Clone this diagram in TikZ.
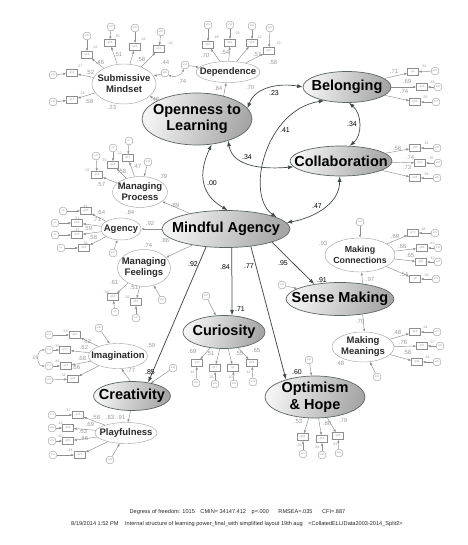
\documentclass[tikz,border=0pt]{standalone}
\usepackage{fontspec}
\setmainfont{Liberation Sans}
\usetikzlibrary{positioning, shapes.geometric, arrows.meta}

\definecolor{LineGray} {HTML}{8E8E8E}
\definecolor{SoftGray} {HTML}{9A9A9A}
\definecolor{PathDark} {HTML}{3E4A4A}
\definecolor{FillLight}{HTML}{F4F4F4}
\definecolor{FillDark} {HTML}{A6A6A6}
\definecolor{NameInk}  {HTML}{2A2A2A}

\tikzset{
  factor/.style={ellipse, draw=PathDark!85, line width=0.7pt, inner sep=0pt,
    left color=FillLight, right color=FillDark, shading angle=75},
  ftext/.style={align=center, inner sep=0pt, text=black,
    font=\bfseries\fontsize{14.5}{16.5}\selectfont},
  subfactor/.style={ellipse, draw=LineGray!80, line width=0.45pt, fill=white, inner sep=0pt},
  stext/.style={align=center, inner sep=0pt, text=NameInk,
    font=\bfseries\fontsize{9.5}{11}\selectfont},
  obs/.style={rectangle, draw=LineGray, line width=0.35pt, fill=white,
    minimum width=11pt, minimum height=7pt, inner sep=0pt,
    font=\fontsize{2.8}{3}\selectfont, text=SoftGray},
  err/.style={circle, draw=LineGray, line width=0.35pt, fill=white,
    minimum size=8pt, inner sep=0pt, font=\fontsize{2.6}{3}\selectfont, text=SoftGray},
  mpath/.style={-{Latex[length=3pt, width=2.4pt]}, LineGray, line width=0.45pt},
  spath/.style={-{Latex[length=5.5pt, width=4pt]}, PathDark, line width=0.75pt},
  cov/.style={{Latex[length=5.5pt, width=4pt]}-{Latex[length=5.5pt, width=4pt]}, PathDark, line width=0.7pt},
  ecov/.style={{Latex[length=2.5pt, width=2pt]}-{Latex[length=2.5pt, width=2pt]}, LineGray, line width=0.4pt},
  ld/.style={inner sep=0pt, text=SoftGray, font=\fontsize{6}{7}\selectfont},
  rsq/.style={inner sep=0pt, text=SoftGray, font=\fontsize{3.6}{4}\selectfont},
  coef/.style={inner sep=0pt, text=black, font=\fontsize{7}{8}\selectfont},
  foot/.style={inner sep=0pt, text=black!85, font=\fontsize{5.6}{6.5}\selectfont},
}

% indicator boxes with their error circles
\newcommand{\obsgroup}[2]{%
  \foreach \nm/\bx/\by/\ex/\ey/\qt/\et/\lv/\lx/\ly/\rv/\rx/\ry in {#2}{%
    \node[obs] (\nm) at (\bx,\by) {\qt};
    \node[err] (e\nm) at (\ex,\ey) {\et};
    \draw[mpath] (e\nm) -- (\nm);
    \draw[mpath] (#1) -- (\nm);
    \node[ld] at (\lx,\ly) {\lv};
    \node[rsq] at (\rx,\ry) {\rv};
  }}

\begin{document}
\begin{tikzpicture}[x=1pt, y=1pt]
\useasboundingbox (0,0) rectangle (467,-545);

% main factors
\node[factor, minimum width=110pt, minimum height=52pt, label={[ftext]center:Openness to\\Learning}] (open) at (197,-119) {};
\node[factor, minimum width=88pt, minimum height=31pt, label={[ftext]center:Belonging}] (bel) at (347,-87) {};
\node[factor, minimum width=102pt, minimum height=30pt, label={[ftext]center:Collaboration}] (col) at (341,-161) {};
\node[factor, minimum width=128pt, minimum height=37pt, label={[ftext]center:Mindful Agency}] (ma) at (226,-229) {};
\node[factor, minimum width=108pt, minimum height=33pt, label={[ftext]center:Sense Making}] (sense) at (340,-299) {};
\node[factor, minimum width=82pt, minimum height=33pt, label={[ftext]center:Curiosity}] (cur) at (224,-332) {};
\node[factor, minimum width=77pt, minimum height=29pt, label={[ftext]center:Creativity}] (cre) at (132,-396) {};
\node[factor, minimum width=100pt, minimum height=42pt, label={[ftext]center:Optimism\\\& Hope}] (opt) at (315,-397) {};

% first order factors
\node[subfactor, minimum width=64pt, minimum height=40pt, label={[stext]center:Submissive\\Mindset}] (subm) at (124,-84) {};
\node[subfactor, minimum width=64pt, minimum height=21pt, label={[stext]center:Dependence}] (dep) at (228,-72) {};
\node[subfactor, minimum width=55pt, minimum height=31pt, label={[stext]center:Managing\\Process}] (mproc) at (140,-192) {};
\node[subfactor, minimum width=40pt, minimum height=22pt, label={[stext]center:Agency}] (agy) at (121,-229) {};
\node[subfactor, minimum width=53pt, minimum height=37pt, label={[stext]center:Managing\\Feelings}] (mfeel) at (144,-268) {};
\node[subfactor, minimum width=70pt, minimum height=34pt, label={[stext, font=\bfseries\fontsize{8.8}{10.5}\selectfont]center:Making\\Connections}] (mconn) at (360,-255) {};
\node[subfactor, minimum width=62pt, minimum height=30pt, label={[stext]center:Making\\Meanings}] (mmean) at (363,-347) {};
\node[subfactor, minimum width=59pt, minimum height=25pt, label={[stext]center:Imagination}] (ima) at (118,-356) {};
\node[subfactor, minimum width=62pt, minimum height=21pt, label={[stext]center:Playfulness}] (pla) at (126,-433) {};

% indicators
\obsgroup{subm}{sm1/87/-55/87/-36/q29/e48/.46/100/-62/.22/95/-47,
  sm2/110/-43/111/-27/q28/e47/.51/118/-54/.26/117/-36,
  sm3/135/-47/135/-28/q30/e49/.58/141/-59/.34/143/-39,
  sm4/159/-49/161/-32/q50/e50/.44/165/-62/.20/170/-43,
  sm5/72/-73/53/-75/q31/e45/.52/90/-72/.27/80/-66,
  sm6/72/-100/53/-102/q16/e44/.58/89/-101/.34/82/-93}
\obsgroup{dep}{dp1/208/-45/208/-25/q60/e51/.70/205/-55/.49/216/-37,
  dp2/230/-43/230/-25/q64/e52/.54/225/-52/.29/237/-33,
  dp3/252/-43/252/-26/q65/e53/.57/257/-54/.32/259/-37,
  dp4/269/-51/270/-28/q67/e54/.58/273/-62/.33/278/-43}
\obsgroup{bel}{be1/413/-72/435/-71/q3/e55/.71/394/-71/.51/424/-66,
  be2/422/-87/438/-87/q49/e56/.69/407/-81/.48/432/-82,
  be3/415/-102/436/-102/q60/e57/.74/404/-91/.55/425/-97}
\obsgroup{col}{co1/415/-148/437/-148/q30/e58/.56/397/-148/.31/426/-143,
  co2/420/-163/438/-163/q44/e59/.74/410/-157/.55/431/-158,
  co3/415/-178/437/-178/q48/e60/.73/407/-167/.54/426/-174}
\obsgroup{mproc}{pr1/97/-175/96/-156/q59/e6/.57/101/-184/.32/87/-170,
  pr2/113/-165/113/-148/q18/e8/.58/122/-171/.33/104/-160,
  pr3/128/-158/129/-141/q14/e7/.47/137/-166/.22/119/-153}
\obsgroup{agy}{ag1/86/-211/63/-211/q53/e4/.64/101/-212/.41/85/-206,
  ag2/77/-223/55/-223/q58/e3/.71/97/-219/.51/77/-218,
  ag3/77/-235/55/-235/q76/e2/.59/88/-228/.35/77/-230,
  ag4/84/-248/61/-248/q80/e1/.58/93/-237/.34/85/-243}
\obsgroup{mfeel}{fe1/113/-297/115/-312/q85/e5/.61/114/-282/.38/106/-292,
  fe2/136/-302/136/-318/q51/e9/.51/134/-287/.26/127/-297}
\obsgroup{mconn}{cn1/413/-233/435/-233/q73/e18/.69/395/-236/.48/423/-229,
  cn2/422/-248/438/-248/q83/e19/.66/402/-246/.43/432/-243,
  cn3/421/-262/438/-262/q84/e20/.65/410/-255/.42/432/-258,
  cn4/415/-279/436/-279/q6/e21/.54/404/-274/.29/426/-275}
\obsgroup{mmean}{mn1/415/-332/437/-332/q26/e22/.48/397/-332/.24/425/-327,
  mn2/422/-346/440/-346/q31/e23/.76/403/-342/.57/432/-342,
  mn3/417/-362/437/-362/q33/e24/.58/407/-352/.34/427/-357}
\obsgroup{cur}{cu1/197/-363/196/-383/q40/e30/.69/192/-351/.48/192/-372,
  cu2/215/-368/215/-384/q17/e31/.51/210/-353/.26/211/-377,
  cu3/233/-368/234/-384/q1/e32/.55/239/-353/.30/230/-377,
  cu4/252/-363/253/-382/q29/e33/.65/256/-350/.42/248/-372}
\obsgroup{opt}{op1/303/-437/303/-454/q90/e27/.53/298/-421/.28/299/-445,
  op2/322/-439/322/-455/q58/e28/.80/327/-423/.64/317/-447,
  op3/338/-436/339/-453/q36/e29/.79/343/-420/.62/335/-444}
\obsgroup{ima}{im1/75/-335/49/-335/q27/e13/.62/87/-341/.38/65/-331,
  im2/65/-350/49/-350/q37/e12/.62/84/-347/.39/57/-346,
  im3/66/-366/49/-366/q79/e11/.68/82/-358/.46/57/-361,
  im4/73/-379/49/-380/q25/e10/.66/76/-367/.34/63/-375}
\obsgroup{pla}{pl1/78/-415/52/-415/q24/e17/.58/96/-417/.33/68/-410,
  pl2/68/-428/52/-428/q45/e16/.69/90/-424/.42/60/-423,
  pl3/68/-441/52/-441/q55/e15/.63/83/-431/.40/60/-436,
  pl4/80/-455/53/-455/q23/e14/.66/84/-438/.44/70/-450}
\draw[ecov] (eim2.west) to[out=180, in=180, looseness=1.4] (eim3.west);
\node[rsq, font=\fontsize{5}{6}\selectfont] at (35,-358) {.05};

% residuals of the factors
\foreach \nm/\px/\py/\tg/\et in {dsubm/165/-73/subm/e46, ddep/185/-65/dep/e34,
    dproc/148/-162/mproc/e43, dagy/113/-253/agy/e42, dfeel/162/-300/mfeel/e41,
    dima/99/-328/ima/e38, dpla/110/-460/pla/e39, dcre/173/-368/cre/e36,
    dcur/206/-296/cur/e37, dopt/309/-360/opt/e35, dsense/282/-285/sense/e40,
    dconn/360/-222/mconn/e44, dmean/377/-377/mmean/e45}{
  \node[err] (\nm) at (\px,\py) {\et};
  \draw[mpath] (\nm) -- (\tg);
}
\draw[ecov] (dsubm) to[bend right=50] (ddep);
\node[ld] at (182,-81) {.74};

% second order paths
\draw[mpath] (open) -- (subm);
\draw[mpath] (open.41) -- (dep.-100);
\draw[mpath] (ma) -- (mproc);
\draw[mpath] (ma) -- (agy);
\draw[mpath] (ma) -- (mfeel);
\draw[mpath] (cre.97) -- (ima.-75);
\draw[mpath] (cre.-95) -- (pla.80);
\draw[mpath] (sense.34) -- (mconn.-85);
\draw[mpath] (sense.-34) -- (mmean.85);
\draw[spath] (ma.-138) -- (cre.40);
\draw[spath] (ma.-73) -- (cur.64);
\draw[spath] (ma.-35) -- (opt.149);
\draw[spath] (ma.-16) -- (sense.150);

% covariances
\draw[cov] (open.12) to[out=70, in=170] (bel.west);
\draw[cov] (open.-35) to[out=-80, in=185] (col.187);
\draw[cov] (open.-60) to[out=-115, in=150, looseness=1.2] (ma.85);
\draw[cov] (bel.211) .. controls (265,-110) and (245,-195) .. (ma.13);
\draw[cov] (col.-95) to[out=-90, in=10] (ma.6);
\draw[cov] (bel.-83) to[out=-40, in=40] (col.60);

% estimates
\foreach \vx/\vy/\vt in {155/-99/.48, 112/-107/.23, 218/-88/.84, 250/-87/.70,
    163/-176/.79, 175/-205/.89, 130/-212/.84, 150/-223/.92, 165/-240/.86,
    148/-245/.74, 323/-243/.93, 370/-279/.97, 360/-321/.70, 340/-363/.48,
    151/-345/.59, 131/-370/.77, 110/-417/.83, 121/-417/.91}
  \node[ld] at (\vx,\vy) {\vt};
\foreach \vx/\vy/\vt in {274/-93/.23, 247/-157/.34, 212/-183/.00, 285/-130/.41,
    352/-124/.34, 317/-206/.47, 193/-264/.92, 225/-267/.84, 249/-266/.77,
    283/-263/.95, 150/-372/.85, 240/-309/.71, 297/-372/.60, 322/-280/.91}
  \node[coef] at (\vx,\vy) {\vt};

% fit statistics
\node[foot] (fit) at (237.5,-512) {Degress of freedom: 1015\hspace{4pt} CMIN= 34147.412\hspace{4pt} p=.000\hspace{8pt} RMSEA=.035\hspace{8pt} CFI=.887};
\node[foot] (stamp) at (237,-524) {8/19/2014 1:52 PM\hspace{5pt} Internal structure of learning power\_final\_with simplified layout 19th aug\hspace{4pt} <CollatedELLIData2003-2014\_Split2>};
\end{tikzpicture}
\end{document}
